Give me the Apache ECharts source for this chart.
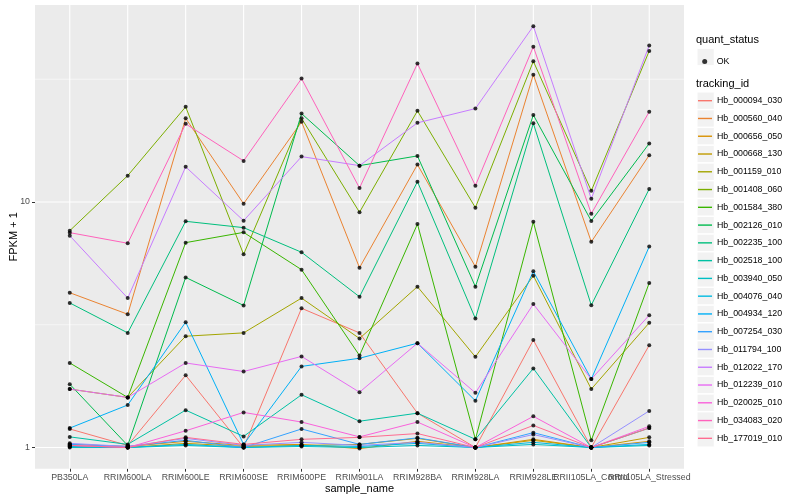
<!DOCTYPE html>
<html>
<head>
<meta charset="utf-8">
<script src="https://cdn.jsdelivr.net/npm/echarts@6/dist/echarts.min.js"></script>
<style>html,body{margin:0;padding:0;background:#fff}#c{width:800px;height:500px}</style>
</head>
<body>
<div id="c"></div>
<script>
const categories = ['PB350LA','RRIM600LA','RRIM600LE','RRIM600SE','RRIM600PE','RRIM901LA','RRIM928BA','RRIM928LA','RRIM928LE','RRII105LA_Control','RRII105LA_Stressed'];
const trackingIds = ['Hb_000094_030','Hb_000560_040','Hb_000656_050','Hb_000668_130','Hb_001159_010','Hb_001408_060','Hb_001584_380','Hb_002126_010','Hb_002235_100','Hb_002518_100','Hb_003940_050','Hb_004076_040','Hb_004934_120','Hb_007254_030','Hb_011794_100','Hb_012022_170','Hb_012239_010','Hb_020025_010','Hb_034083_020','Hb_177019_010'];
const colors = ['#F8766D','#EA8331','#D89000','#C09B00','#A3A500','#7CAE00','#39B600','#00BB4E','#00BF7D','#00C1A3','#00BFC4','#00BAE0','#00B0F6','#35A2FF','#9590FF','#C77CFF','#E76BF3','#FA62DB','#FF62BC','#FF6C91'];

const hb_000094_030 = [1.19, 1.02, 1.97, 1.00, 3.69, 2.93, 1.38, 1.00, 2.74, 1.00, 2.61];
const hb_000560_040 = [4.27, 3.49, 21.9, 9.84, 21.2, 5.40, 14.2, 5.45, 33.0, 6.88, 15.5];
const hb_000656_050 = [1.03, 1.01, 1.06, 1.02, 1.03, 0.99, 1.06, 1.00, 1.08, 1.00, 1.06];
const hb_000668_130 = [1.01, 1.00, 1.04, 1.01, 1.02, 1.03, 1.09, 1.00, 1.07, 1.00, 1.10];
const hb_001159_010 = [1.73, 1.60, 2.84, 2.93, 4.06, 2.78, 4.52, 2.34, 5.01, 1.73, 3.22];
const hb_001408_060 = [7.64, 12.8, 24.4, 6.12, 21.9, 9.08, 23.5, 9.48, 37.4, 11.1, 41.2];
const hb_001584_380 = [2.21, 1.60, 6.83, 7.52, 5.30, 2.37, 8.13, 1.08, 8.30, 1.07, 4.68];
const hb_002126_010 = [1.81, 1.02, 4.93, 3.79, 22.9, 14.06, 15.4, 4.52, 22.6, 8.37, 17.3];
const hb_002235_100 = [3.88, 2.93, 8.34, 7.86, 6.24, 4.11, 12.1, 3.35, 20.9, 3.80, 11.3];
const hb_002518_100 = [1.105, 1.03, 1.42, 1.11, 1.64, 1.28, 1.38, 1.08, 2.10, 1.00, 1.20];
const hb_003940_050 = [1.00, 1.00, 1.02, 1.00, 1.01, 1.00, 1.02, 1.00, 1.03, 1.00, 1.02];
const hb_004076_040 = [1.01, 1.00, 1.03, 1.00, 1.02, 1.01, 1.04, 1.00, 1.05, 1.00, 1.03];
const hb_004934_120 = [1.20, 1.49, 3.24, 1.03, 2.14, 2.31, 2.66, 1.55, 5.22, 1.90, 6.58];
const hb_007254_030 = [1.03, 1.01, 1.07, 1.00, 1.19, 1.03, 1.095, 1.00, 1.15, 1.00, 1.05];
const hb_011794_100 = [1.04, 1.01, 1.09, 1.02, 1.05, 1.02, 1.05, 1.00, 1.13, 1.00, 1.41];
const hb_012022_170 = [7.29, 4.06, 13.9, 8.39, 15.3, 14.06, 21.0, 24.0, 52.0, 10.3, 43.4];
const hb_012239_010 = [1.73, 1.60, 2.21, 2.04, 2.35, 1.68, 2.66, 1.67, 3.84, 1.90, 3.46];
const hb_020025_010 = [1.02, 1.00, 1.17, 1.39, 1.27, 1.105, 1.27, 1.00, 1.34, 1.00, 1.22];
const hb_034083_020 = [7.50, 6.79, 20.8, 14.7, 31.8, 11.4, 36.6, 11.65, 42.9, 8.96, 23.3];
const hb_177019_010 = [1.02, 1.00, 1.10, 1.03, 1.08, 1.10, 1.14, 1.00, 1.23, 1.00, 1.20];

const seriesValues = [hb_000094_030, hb_000560_040, hb_000656_050, hb_000668_130, hb_001159_010, hb_001408_060, hb_001584_380, hb_002126_010, hb_002235_100, hb_002518_100, hb_003940_050, hb_004076_040, hb_004934_120, hb_007254_030, hb_011794_100, hb_012022_170, hb_012239_010, hb_020025_010, hb_034083_020, hb_177019_010];

const yMajorTicks = [1, 10];
const yMinorTicks = [3.1623, 31.623];
const yTickLabels = ['1', '10'];

const X_MIN = -0.6, X_MAX = 10.6, Y_MIN = 0.82, Y_MAX = 63.4;
const FONT = 'Liberation Sans, Arial, Helvetica, sans-serif';
const chart = echarts.init(document.getElementById('c'), null, {renderer: 'canvas'});

const catIdx = categories.map((c, i) => i);
// tick groups: the last two labels overlap in the original, so each sits on its own overlaid axis
const tickGroups = [catIdx.slice(0, -2), [catIdx[catIdx.length - 2]], [catIdx[catIdx.length - 1]]];

function gridSeries(points, width) {
  return {
    type: 'line', z: 1, silent: true, symbol: 'none', showSymbol: false,
    lineStyle: {color: '#FFFFFF', width: width},
    itemStyle: {color: '#FFFFFF'},
    emphasis: {disabled: true}, tooltip: {show: false},
    data: points
  };
}
const gridLines = [
  ...yMajorTicks.map(v => gridSeries([[X_MIN, v], [X_MAX, v]], 1.1)),
  ...yMinorTicks.map(v => gridSeries([[X_MIN, v], [X_MAX, v]], 0.55)),
  ...catIdx.map(i => gridSeries([[i, Y_MIN], [i, Y_MAX]], 1.1))
];

const lineSeries = trackingIds.map((id, k) => ({
  name: id,
  type: 'line',
  z: 2,
  symbol: 'none',
  showSymbol: false,
  color: colors[k],
  lineStyle: {width: 1, color: colors[k]},
  data: seriesValues[k].map((v, i) => [i, v]),
  silent: true
}));

const pointData = [];
seriesValues.forEach(arr => arr.forEach((v, i) => pointData.push([i, v])));

const legendTop = 93.7, legendStep = 17.77, keySize = 17.28;
const graphics = [
  {type: 'text', left: 696, top: 34, z: 10, style: {text: 'quant_status', font: '11px ' + FONT, fill: '#000'}},
  {type: 'text', left: 696, top: 78, z: 10, style: {text: 'tracking_id', font: '11px ' + FONT, fill: '#000'}},
  {type: 'rect', shape: {x: 697, y: 57 - keySize / 2, width: keySize, height: keySize}, z: 0, style: {fill: '#F2F2F2', stroke: '#FFFFFF', lineWidth: 1}}
];
trackingIds.forEach((id, k) => {
  const cy = legendTop + 7 + k * legendStep;
  graphics.push({type: 'rect', shape: {x: 697, y: cy - keySize / 2, width: keySize, height: keySize}, z: 0, style: {fill: '#F2F2F2', stroke: '#FFFFFF', lineWidth: 1}});
});

const lineIcon = 'path://M0,0L14,0L14,1.4L0,1.4Z';

function xAxisOf(ticks, withName, gridIndex) {
  return {
    type: 'value', gridIndex: gridIndex, min: X_MIN, max: X_MAX, position: 'bottom', offset: 0,
    name: withName ? 'sample_name' : '', nameLocation: 'middle', nameGap: 15, nameMoveOverlap: false,
    nameTextStyle: {fontSize: 11, color: '#000', fontFamily: FONT},
    axisLine: {show: false, onZero: false},
    axisTick: {show: true, length: 3, lineStyle: {color: '#333333', width: 1}, customValues: ticks},
    axisLabel: {show: true, margin: 4, fontSize: 8.8, color: '#4D4D4D', fontFamily: FONT, customValues: ticks,
      hideOverlap: false, showMinLabel: true, showMaxLabel: true,
      formatter: v => categories[Math.round(v)] || ''},
    splitLine: {show: false}, minorSplitLine: {show: false}
  };
}

const gridBox = {left: 35, right: 116, top: 5, bottom: 31.3, borderWidth: 0, containLabel: false, outerBoundsMode: 'none'};

chart.setOption({
  animation: false,
  backgroundColor: '#FFFFFF',
  textStyle: {fontFamily: FONT},
  grid: tickGroups.map((g, gi) => Object.assign(gi === 0 ? {show: true, backgroundColor: '#EBEBEB'} : {show: false}, gridBox)),
  xAxis: tickGroups.map((g, gi) => xAxisOf(g, gi === 0, gi)),
  yAxis: [{
    type: 'log', gridIndex: 0, logBase: 10, min: Y_MIN, max: Y_MAX, position: 'left',
    name: 'FPKM + 1', nameLocation: 'middle', nameGap: 16, nameRotate: 90, nameMoveOverlap: false,
    nameTextStyle: {fontSize: 11, color: '#000', fontFamily: FONT},
    axisLine: {show: false, onZero: false},
    axisTick: {show: true, length: 3, lineStyle: {color: '#333333', width: 1}, customValues: yMajorTicks},
    axisLabel: {show: true, margin: 5, fontSize: 8.8, color: '#4D4D4D', fontFamily: FONT, customValues: yMajorTicks,
      formatter: v => { const j = yMajorTicks.findIndex(t => Math.abs(t - v) < 1e-6 * t); return j >= 0 ? yTickLabels[j] : ''; }},
    splitLine: {show: false}, minorSplitLine: {show: false}
  },
  {type: 'log', gridIndex: 1, min: Y_MIN, max: Y_MAX, show: false, axisLine: {onZero: false}},
  {type: 'log', gridIndex: 2, min: Y_MIN, max: Y_MAX, show: false, axisLine: {onZero: false}}],
  legend: [
    {
      data: [{name: 'OK', icon: 'circle'}],
      orient: 'vertical', left: 702.2, top: 54.5, padding: 0,
      itemWidth: 5, itemHeight: 5, selectedMode: false,
      textStyle: {fontSize: 8.8, color: '#000', fontFamily: FONT, lineHeight: 14, padding: [0, 0, 0, 4.5]}
    },
    {
      data: trackingIds.map(n => ({name: n, icon: lineIcon})),
      orient: 'vertical', left: 698, top: legendTop, padding: 0,
      itemWidth: 14, itemHeight: 14, itemGap: legendStep - 14, selectedMode: false,
      textStyle: {fontSize: 8.8, color: '#000', fontFamily: FONT, lineHeight: 14}
    }
  ],
  graphic: graphics,
  series: [
    ...gridLines,
    ...lineSeries,
    {
      name: 'OK', type: 'scatter', z: 3, symbol: 'circle', symbolSize: 4,
      itemStyle: {color: '#000000'}, silent: true,
      data: pointData
    }
  ]
});
</script>
</body>
</html>
